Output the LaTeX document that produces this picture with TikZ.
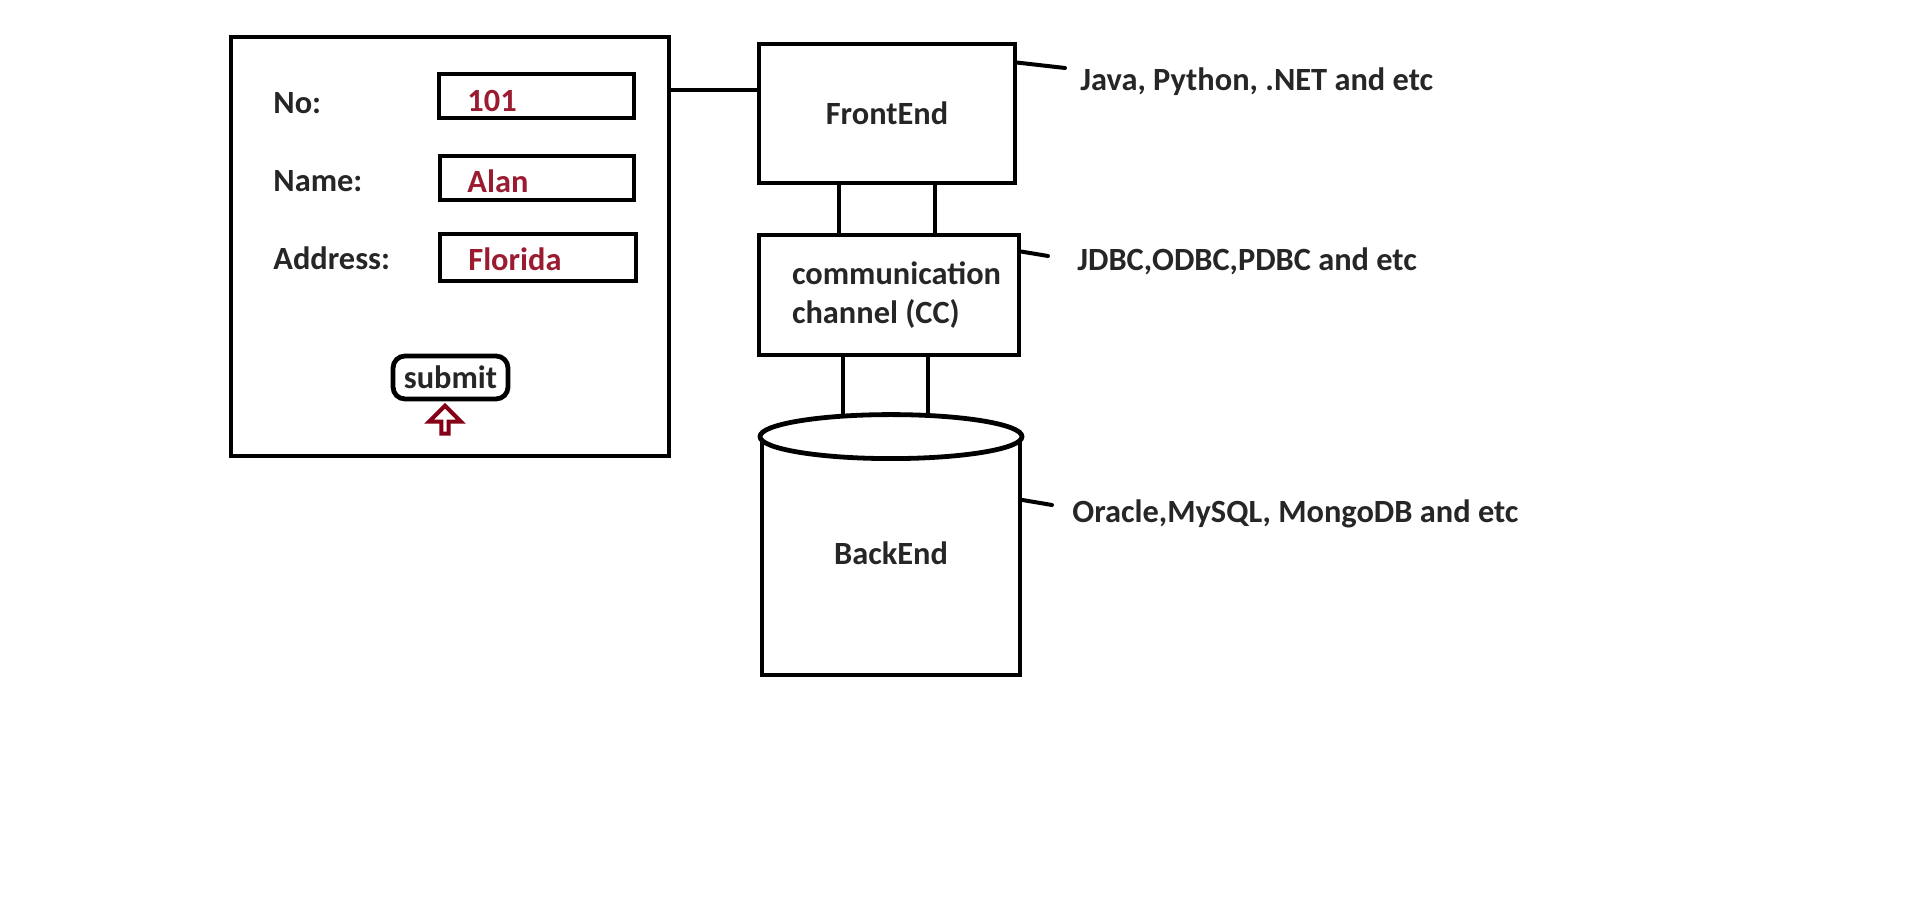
\documentclass[tikz,border=0pt]{standalone}
\usepackage{fontspec}
\setmainfont{Carlito}
\definecolor{ink}{HTML}{262626}
\definecolor{valred}{HTML}{9B1C31}
\definecolor{arrowred}{HTML}{850017}
\usetikzlibrary{shapes,arrows.meta,positioning,calc}

\begin{document}
\begin{tikzpicture}[x=0.5pt,y=-0.5pt,
    every node/.style={font=\fontsize{16.2}{19.5}\selectfont\bfseries,text=ink},
    box/.style={draw,line width=2.4pt,inner sep=0pt},
    lbl/.style={anchor=base west,inner sep=0pt},
    val/.style={anchor=base west,inner sep=0pt,text=valred},
    wire/.style={line width=2.4pt},
    tick/.style={line width=2pt,line cap=round},
    note/.style={anchor=base west,inner sep=0pt}]
    \useasboundingbox (0,0) rectangle (1913,897);
    % form
    \node[box,minimum width=219pt,minimum height=209.5pt] (form) at (450,246.5) {};
    \node[box,minimum width=97.5pt,minimum height=22pt] (fno) at (536.5,96) {};
    \node[box,minimum width=97pt,minimum height=22pt] (fname) at (537,178) {};
    \node[box,minimum width=98pt,minimum height=23.5pt] (faddr) at (538,257.5) {};
    \node[lbl] (lno) at (273,114) {No:};
    \node[lbl] (lname) at (273,192) {Name:};
    \node[lbl] (laddr) at (273,270) {Address:};
    \node[val] (vno) at (467,112) {101};
    \node[val] (vname) at (467,193) {Alan};
    \node[val] (vaddr) at (468,271) {Florida};
    \node[box,rounded corners=6pt,minimum width=57.5pt,minimum height=21.5pt] (submit) at (450.5,377.5) {submit};
    \node[draw=arrowred,line width=2pt,shape=single arrow,shape border rotate=90,
          single arrow head extend=3.5pt,single arrow tip angle=90,inner sep=0pt,
          minimum width=16pt,minimum height=14pt] (click) at (445,421.5) {};
    % layers
    \node[box,minimum width=128pt,minimum height=69.5pt] (frontend) at (887,113.5) {FrontEnd};
    \node[box,minimum width=130pt,minimum height=60pt,align=flush left,text width=97pt] (cc) at (889,295)
        {communication\\channel (CC)};
    \node[box,minimum width=129pt,minimum height=118pt,text depth=4pt] (backend) at (891,557) {BackEnd};
    \coordinate (felink) at ([yshift=11.75pt]frontend.west);
    \draw[wire] (form.east |- felink) -- (felink);
    \draw[wire] ([xshift=-24pt]frontend.south) -- ([xshift=-24pt]frontend.south |- cc.north);
    \draw[wire] ([xshift=24pt]frontend.south) -- ([xshift=24pt]frontend.south |- cc.north);
    \draw[wire] ([xshift=-23pt]cc.south) -- ([xshift=-23pt]cc.south |- backend.north);
    \draw[wire] ([xshift=19.5pt]cc.south) -- ([xshift=19.5pt]cc.south |- backend.north);
    \node[box,ellipse,fill=white,minimum width=131pt,minimum height=22pt] (dbtop) at (backend.north) {};
    % notes
    \node[note] (nfe) at (1080,91) {Java, Python, .NET and etc};
    \node[note] (ncc) at (1077,271) {JDBC,ODBC,PDBC and etc};
    \node[note] (nbe) at (1072,523) {Oracle,MySQL, MongoDB and etc};
    \coordinate (tfe) at (1065,68);
    \coordinate (tcc) at (1048,256);
    \coordinate (tbe) at (1052,505);
    \draw[tick] ([yshift=-10.5pt]frontend.north east) -- (tfe);
    \draw[tick] ([yshift=-9.5pt]cc.north east) -- (tcc);
    \draw[tick] (backend.east |- 0,500) -- (tbe);
\end{tikzpicture}
\end{document}
